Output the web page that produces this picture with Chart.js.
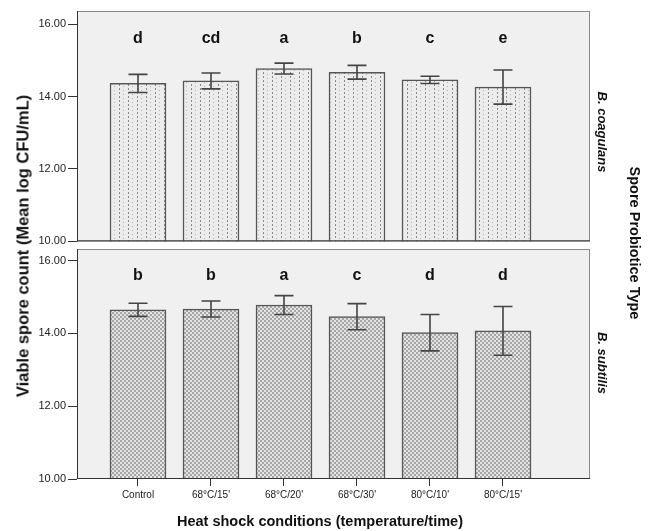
<!DOCTYPE html>
<html lang="en">
  <head>
    <meta charset="UTF-8" />
    <title>Viable spore count after heat shock</title>
    <script src="https://cdn.jsdelivr.net/npm/chart.js@4/dist/chart.umd.min.js"></script>
    <style>
      body { margin: 0; background: #fff; font-family: 'Liberation Sans', Arial, sans-serif; }
      #wrap { position: relative; width: 651px; height: 531px; }
      canvas { position: absolute; left: 0; top: 0; }
      .lbl { position: absolute; white-space: nowrap; color: #111; font-weight: bold; }
    </style>
  </head>
  <body>
    <div id="wrap">
      <canvas id="top" width="651" height="250"></canvas>
      <canvas id="bottom" width="651" height="531"></canvas>
      <div class="lbl" style="left:23px;top:246px;font-size:16.5px;transform:translate(-50%,-50%) rotate(-90deg)">Viable spore count (Mean log CFU/mL)</div>
      <div class="lbl" style="left:320px;top:521px;font-size:14.5px;transform:translate(-50%,-50%)">Heat shock conditions (temperature/time)</div>
      <div class="lbl" style="left:635px;top:243px;font-size:14.5px;transform:translate(-50%,-50%) rotate(90deg)">Spore Probiotice Type</div>
      <div class="lbl" style="left:602px;top:132px;font-size:13px;font-style:italic;transform:translate(-50%,-50%) rotate(90deg)">B. coagulans</div>
      <div class="lbl" style="left:602px;top:363px;font-size:13px;font-style:italic;transform:translate(-50%,-50%) rotate(90deg)">B. subtilis</div>
    </div>
    <script>
      const conditions = ['Control', "68°C/15'", "68°C/20'", "68°C/30'", "80°C/10'", "80°C/15'"];

      // B. coagulans (top panel)
      const coagMeans = [14.36, 14.43, 14.77, 14.67, 14.46, 14.26];
      const coagErrors = [0.25, 0.22, 0.15, 0.19, 0.10, 0.47];
      const coagLetters = ['d', 'cd', 'a', 'b', 'c', 'e'];

      // B. subtilis (bottom panel)
      const subtMeans = [14.65, 14.67, 14.78, 14.46, 14.02, 14.07];
      const subtErrors = [0.18, 0.22, 0.26, 0.36, 0.50, 0.67];
      const subtLetters = ['b', 'b', 'a', 'c', 'd', 'd'];

      const yTicks = [10, 12, 14, 16];

      function makePattern(kind) {
        const c = document.createElement('canvas');
        const g = c.getContext('2d');
        if (kind === 'dash') {
          c.width = 9; c.height = 4;
          g.fillStyle = '#ececec'; g.fillRect(0, 0, 9, 4);
          g.fillStyle = '#8a8a8a'; g.fillRect(2, 0, 1, 2);
          g.fillStyle = '#b4b4b4'; g.fillRect(6, 2, 1, 1);
        } else {
          c.width = 4; c.height = 4;
          g.fillStyle = '#e4e4e4'; g.fillRect(0, 0, 4, 4);
          g.fillStyle = '#a6a6a6'; g.fillRect(0, 0, 2, 2); g.fillRect(2, 2, 2, 2);
        }
        return g.createPattern(c, 'repeat');
      }

      const panelPlugin = {
        id: 'panel',
        beforeDraw(chart) {
          const a = chart.chartArea, ctx = chart.ctx;
          ctx.save();
          ctx.fillStyle = '#f0f0f0';
          ctx.fillRect(a.left, a.top, a.right - a.left, a.bottom - a.top);
          ctx.restore();
        },
        afterDatasetsDraw(chart, args, opts) {
          const a = chart.chartArea, ctx = chart.ctx;
          const xs = chart.scales.x, ys = chart.scales.y;
          ctx.save();
          // error bars
          ctx.strokeStyle = '#444';
          ctx.lineWidth = 1.6;
          opts.means.forEach((m, i) => {
            const x = xs.getPixelForValue(i);
            const y1 = ys.getPixelForValue(m + opts.errors[i]);
            const y2 = ys.getPixelForValue(m - opts.errors[i]);
            ctx.beginPath();
            ctx.moveTo(x, y1); ctx.lineTo(x, y2);
            ctx.moveTo(x - 9.5, y1); ctx.lineTo(x + 9.5, y1);
            ctx.moveTo(x - 9.5, y2); ctx.lineTo(x + 9.5, y2);
            ctx.stroke();
          });
          // significance letters
          ctx.fillStyle = '#111';
          ctx.font = 'bold 16px "Liberation Sans", Arial, sans-serif';
          ctx.textAlign = 'center';
          ctx.textBaseline = 'middle';
          opts.letters.forEach((t, i) => {
            ctx.fillText(t, xs.getPixelForValue(i), ys.getPixelForValue(15.6));
          });
          // frame
          ctx.lineWidth = 1;
          ctx.strokeStyle = '#8a8a8a';
          ctx.strokeRect(a.left + 0.5, a.top + 0.5, a.right - a.left - 1, a.bottom - a.top - 1);
          ctx.strokeStyle = '#333';
          ctx.beginPath();
          ctx.moveTo(a.left + 0.5, a.top); ctx.lineTo(a.left + 0.5, a.bottom);
          ctx.moveTo(a.left, a.bottom - 0.5); ctx.lineTo(a.right, a.bottom - 0.5);
          ctx.stroke();
          ctx.restore();
        }
      };

      function buildChart(id, means, errors, letters, yMax, showX, pattern) {
        return new Chart(document.getElementById(id), {
          type: 'bar',
          data: {
            datasets: [{
              data: means.map((v, i) => ({ x: i, y: v })),
              backgroundColor: makePattern(pattern),
              borderColor: '#555',
              borderWidth: 1.5,
              borderSkipped: false,
              barThickness: 56
            }]
          },
          options: {
            responsive: false,
            devicePixelRatio: 1,
            animation: false,
            layout: { padding: showX ? { top: 249, right: 61, bottom: 0, left: 0 } : { top: 11, right: 61, bottom: 8, left: 0 } },
            plugins: {
              legend: { display: false },
              tooltip: { enabled: false },
              panel: { means, errors, letters }
            },
            scales: {
              x: {
                type: 'linear',
                display: showX,
                offset: false,
                min: -0.8356,
                max: 6.1918,
                afterBuildTicks: s => { s.ticks = conditions.map((c, i) => ({ value: i })); },
                afterFit: s => { if (showX) s.height = 52; },
                grid: { drawOnChartArea: false, offset: false, tickLength: 7, color: '#333' },
                border: { display: false },
                ticks: {
                  padding: 3,
                  maxRotation: 0,
                  color: '#222',
                  font: { family: 'Liberation Sans', size: 10 },
                  callback: v => conditions[v]
                }
              },
              y: {
                min: 10,
                max: yMax,
                afterBuildTicks: s => { s.ticks = yTicks.map(v => ({ value: v })); },
                afterFit: s => { s.width = 77; },
                grid: { drawOnChartArea: false, tickLength: 9, color: '#333' },
                border: { display: false },
                ticks: {
                  padding: 2,
                  color: '#222',
                  font: { family: 'Liberation Sans', size: 11 },
                  callback: v => v.toFixed(2)
                }
              }
            }
          },
          plugins: [panelPlugin]
        });
      }

      buildChart('top', coagMeans, coagErrors, coagLetters, 16.36, false, 'dash');
      buildChart('bottom', subtMeans, subtErrors, subtLetters, 16.32, true, 'check');
    </script>
  </body>
</html>
